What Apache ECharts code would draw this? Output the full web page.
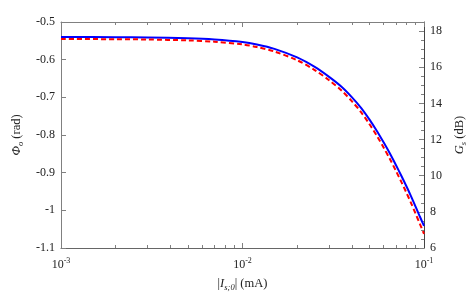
<!DOCTYPE html>
<html><head><meta charset="utf-8">
<script src="https://cdn.jsdelivr.net/npm/echarts@6/dist/echarts.min.js"></script>
<style>html,body{margin:0;padding:0;background:#fff}#c{width:469px;height:293px}</style>
</head><body><div id="c"></div>
<script>
// Input current |I_s;0| (mA)
var currents = [0.001,0.002,0.003,0.005,0.007,0.01,0.012,0.015,0.02,0.025,0.03,0.035,0.04,0.045,0.05,0.055,0.06,0.065,0.07,0.075,0.08,0.085,0.09,0.095,0.1];
// Phase Phi_o (rad), blue solid
var phase = [-0.5398,-0.5404,-0.5411,-0.5433,-0.5465,-0.5531,-0.5596,-0.5713,-0.5941,-0.6193,-0.6457,-0.6714,-0.6995,-0.7280,-0.7586,-0.7894,-0.8202,-0.8499,-0.8796,-0.9083,-0.9362,-0.9635,-0.9908,-1.0171,-1.0415];
// Gain G_s (dB), red dashed
var gain = [17.560,17.549,17.532,17.482,17.410,17.261,17.115,16.866,16.385,15.843,15.277,14.725,14.125,13.515,12.858,12.200,11.542,10.906,10.270,9.656,9.059,8.472,7.886,7.322,6.785];
var xMajor = [0.001,0.01,0.1];
var xMinor = [0.002,0.003,0.004,0.005,0.006,0.007,0.008,0.009,0.02,0.03,0.04,0.05,0.06,0.07,0.08,0.09];

var FF = 'Liberation Serif';
var AX = '#808080';
function zip(a,b){return a.map(function(v,i){return [v,b[i]];});}

var chart = echarts.init(document.getElementById('c'), null, {renderer:'canvas'});
function xAx(pos, major, labels){
  return {
    type:'log', logBase:10, min:0.001, max:0.1, position:pos,
    axisLine:{show:major, lineStyle:{color:pos==='bottom'?'#666':AX, width:1}},
    axisTick:{show:true, inside:true, length: major?5:3, customValues: major?xMajor:xMinor, lineStyle:{color:AX}},
    axisLabel:{show:labels, fontFamily:FF, fontSize:12, color:'#222', margin:9,
      formatter:function(v){var e=Math.round(Math.log10(v));return '{b|10}{s|'+e+'}';},
      rich:{b:{fontFamily:FF,fontSize:12,color:'#222'},s:{fontFamily:FF,fontSize:8,color:'#222',padding:[0,0,8,0]}}},
    splitLine:{show:false}, minorTick:{show:false},
    name: labels ? '|{i|I}{sub|s;0}| (mA)' : '',
    nameLocation:'middle', nameGap:27,
    nameTextStyle:{fontFamily:FF,fontSize:12.5,color:'#222',
      rich:{i:{fontFamily:FF,fontSize:12.5,fontStyle:'italic',color:'#222'},sub:{fontFamily:FF,fontSize:8.5,fontStyle:'italic',color:'#222',padding:[8,0,0,0]}}}
  };
}
chart.setOption({
  animation:false,
  grid:{left:61,right:45,top:22,bottom:45,containLabel:false,outerBoundsMode:'none'},
  xAxis:[
    xAx('bottom', true, true),
    xAx('top', true, false),
    xAx('top', false, false),
    xAx('bottom', false, false)
  ],
  yAxis:[
    {type:'value', min:-1.1, max:-0.5, interval:0.1, position:'left',
     axisLine:{show:true, lineStyle:{color:AX}},
     axisTick:{show:true, inside:true, length:5, lineStyle:{color:AX}},
     axisLabel:{fontFamily:FF,fontSize:12,color:'#222',margin:6},
     splitLine:{show:false},
     name:'{i|Φ}{sub|o} (rad)', nameLocation:'middle', nameGap:28, nameRotate:90,
     nameTextStyle:{fontFamily:FF,fontSize:12.5,color:'#222',
       rich:{i:{fontFamily:FF,fontSize:12.5,fontStyle:'italic',color:'#222'},sub:{fontFamily:FF,fontSize:8.5,fontStyle:'italic',color:'#222',padding:[8,0,0,0]}}}},
    {type:'value', min:6, max:18.5, interval:2, position:'right',
     axisLine:{show:true, lineStyle:{color:'#444'}},
     axisTick:{show:true, inside:true, length:5, lineStyle:{color:AX}},
     minorTick:{show:true, splitNumber:4, length:3, lineStyle:{color:AX}},
     axisLabel:{fontFamily:FF,fontSize:12,color:'#222',margin:6,showMaxLabel:false},
     splitLine:{show:false},
     name:'{i|G}{sub|s} (dB)', nameLocation:'middle', nameGap:27, nameRotate:90,
     nameTextStyle:{fontFamily:FF,fontSize:12.5,color:'#222',
       rich:{i:{fontFamily:FF,fontSize:12.5,fontStyle:'italic',color:'#222'},sub:{fontFamily:FF,fontSize:8.5,fontStyle:'italic',color:'#222',padding:[8,0,0,0]}}}}
  ],
  series:[
    {type:'line', name:'phase', xAxisIndex:0, yAxisIndex:0, data:zip(currents,phase), showSymbol:false, symbol:'none', smooth:0.3,
     lineStyle:{color:'#0000ff', width:2}},
    {type:'line', name:'gain', xAxisIndex:0, yAxisIndex:1, data:zip(currents,gain), showSymbol:false, symbol:'none', smooth:0.3,
     lineStyle:{color:'#ff0000', width:2, type:[5,3]}}
  ]
});
</script></body></html>
